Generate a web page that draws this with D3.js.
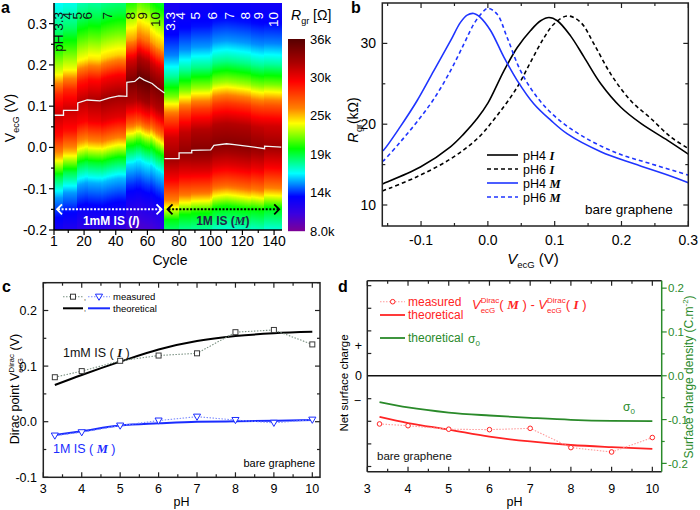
<!DOCTYPE html>
<html><head><meta charset="utf-8">
<script src="https://d3js.org/d3.v7.min.js"></script>
<style>html,body{margin:0;padding:0;background:#fff;}svg{display:block;}</style>
</head><body>
<svg id="fig" width="700" height="510" xmlns="http://www.w3.org/2000/svg"></svg>
<script>
// ================= DATA =================
// ---- Panel a ----
const cycleTicks = [1,20,40,60,80,100,120,140];
const cycleMinor = [10,30,50,70,90,110,130];
const vTicksA = [-0.2,-0.1,0.0,0.1,0.2,0.3];
const vTickLabelsA = ["-0.2","-0.1","0.0","0.1","0.2","0.3"];
const vMinorA = [-0.15,-0.05,0.05,0.15,0.25];
// Dirac point (white line) vs cycle, 1 mM IS (I) and 1 M IS (M)
const diracI_cycle = [1,7,7,16,16,22,30,36,42,47,47,52,55,58,63,66,70.8];
const diracI_V     = [0.078,0.078,0.09,0.09,0.108,0.115,0.113,0.12,0.125,0.124,0.158,0.16,0.17,0.163,0.155,0.145,0.132];
const diracM_cycle = [70.8,80,80,88,88,100,102,110,115,125,134,134,144.5];
const diracM_V     = [-0.027,-0.027,-0.013,-0.013,-0.007,-0.006,0.005,0.009,0.007,0.002,-0.003,0.003,0.001];
// per pH segment: start cycle and peak resistance (kOhm)
const segStartI = [1,7,16,23,31,47,54,62];
const peakI     = [31.5,31.5,32,32.5,33,34.5,35.5,34.5];
const segStartM = [71,80,88,96,104,116,126,134];
const peakM     = [33,33.5,34,34,34,34,33.5,33];
const rFloor = 8;
// normalised resistance profile vs (V - V_Dirac)
const offI = [-0.45,-0.4,-0.35,-0.3,-0.25,-0.2,-0.15,-0.1,-0.05,0,0.05,0.1,0.15,0.2,0.25,0.3,0.35];
const shpI = [0.02,0.04,0.08,0.14,0.21,0.3,0.47,0.72,0.91,1,0.88,0.66,0.55,0.45,0.38,0.33,0.29];
const offM = [-0.3,-0.25,-0.2,-0.15,-0.1,-0.05,0,0.05,0.1,0.15,0.2,0.25,0.3,0.35,0.4];
const shpM = [0.2,0.27,0.36,0.47,0.72,0.88,1,0.93,0.77,0.55,0.39,0.27,0.2,0.17,0.15];
const pHLabelsI = ["pH 3.3","4","5","6","7","8","9","10"];
const pHLabelCycleI = [3.5,9.2,15.5,21.8,34.4,49,56.5,64.7];
const pHLabelsM = ["3.3","4","5","6","7","8","9","10"];
const pHLabelCycleM = [74.2,80.5,90,100.7,112,121.5,130.3,139.2];
const cbLabels = ["8.0k","14k","19k","25k","30k","36k"];
const cbMin = 8, cbMax = 36;

// ---- Panel b ----
const bTicksX = [-0.1,0.0,0.1,0.2,0.3];
const bTickLabelsX = ["-0.1","0.0","0.1","0.2","0.3"];
const bTicksY = [10,20,30];
const pH4I_V = [-0.158,-0.156,-0.101,-0.056,-0.036,-0.016,0.0,0.024,0.044,0.064,0.079,0.0915,0.104,0.124,0.144,0.169,0.199,0.229,0.269,0.3];
const pH4I_R = [12.6,12.67,14.7,17.2,18.8,20.7,22.6,26.6,29.5,31.6,32.8,33.2,32.8,30.9,28.3,25.0,22.1,20.1,18.0,16.3];
const pH6I_V = [-0.158,-0.156,-0.106,-0.056,-0.016,0.014,0.044,0.064,0.084,0.099,0.119,0.139,0.159,0.184,0.214,0.244,0.274,0.3];
const pH6I_R = [11.75,11.8,13.5,15.7,18.2,21.1,24.6,27.7,30.7,32.4,33.4,32.6,29.9,26.2,22.9,20.7,18.4,17.0];
const pH4M_V = [-0.158,-0.156,-0.131,-0.106,-0.081,-0.056,-0.041,-0.031,-0.021,-0.011,0.004,0.024,0.044,0.069,0.094,0.119,0.169,0.219,0.269,0.3];
const pH4M_R = [16.7,16.8,19.7,22.9,26.6,30.3,32.6,33.5,33.7,33.2,31.6,28.3,25.4,22.5,20.5,18.8,16.6,15.1,13.7,12.75];
const pH6M_V = [-0.158,-0.156,-0.131,-0.106,-0.081,-0.056,-0.036,-0.021,-0.0085,0.0,0.014,0.029,0.049,0.074,0.104,0.144,0.194,0.244,0.3];
const pH6M_R = [15.4,15.5,17.8,20.3,23.1,26.6,29.9,32.4,33.8,34.35,33.6,30.7,26.6,23.3,20.7,18.4,16.4,15.1,13.7];

// ---- Panel c ----
const pH = [3.3,4,5,6,7,8,9,10];
const pHTicks = [3,4,5,6,7,8,9,10];
const cTicksY = [-0.1,0.0,0.1,0.2];
const cTickLabelsY = ["-0.1","0.0","0.1","0.2"];
const measI = [0.080,0.091,0.1095,0.119,0.123,0.161,0.165,0.139];
const theoI = [0.066,0.084,0.108,0.130,0.145,0.154,0.159,0.1616];
const measM = [-0.025,-0.019,-0.007,0.002,0.009,0.003,-0.002,0.0036];
const theoM = [-0.024,-0.017,-0.007,-0.003,0.0,0.0006,0.0016,0.003];

// ---- Panel d ----
const dTicksY = [-0.2,-0.1,0.0,0.1,0.2];
const dTickLabelsY = ["-0.2","-0.1","0.0","0.1","0.2"];
const measDiff = [-0.110,-0.114,-0.122,-0.123,-0.120,-0.164,-0.174,-0.141];
const theoDiff = [-0.094,-0.108,-0.123,-0.139,-0.150,-0.158,-0.163,-0.167];
const sigma0   = [-0.060,-0.0724,-0.084,-0.0907,-0.096,-0.1006,-0.103,-0.1036];

// ================= DRAWING =================
const FONT = '"Liberation Sans", Arial, Helvetica, sans-serif';
const SERIF = '"Liberation Serif", "Times New Roman", serif';
const svg = d3.select("#fig").style("font-family", FONT);
const defs = svg.append("defs");

function hTicks(g, scale, vals, y, dy, color, w){
  g.selectAll(null).data(vals).enter().append("line")
    .attr("x1", d=>scale(d)).attr("x2", d=>scale(d)).attr("y1", y).attr("y2", y+dy)
    .attr("stroke", color).attr("stroke-width", w||1.2);
}
function vTicks(g, scale, vals, x, dx, color, w){
  g.selectAll(null).data(vals).enter().append("line")
    .attr("y1", d=>scale(d)).attr("y2", d=>scale(d)).attr("x1", x).attr("x2", x+dx)
    .attr("stroke", color).attr("stroke-width", w||1.2);
}
function stepInterp(xs, ys, x){
  if (x <= xs[0]) return ys[0];
  for (let i=0;i<xs.length-1;i++){
    if (x>=xs[i] && x<xs[i+1]) return ys[i] + (ys[i+1]-ys[i])*(x-xs[i])/(xs[i+1]-xs[i]);
  }
  return ys[ys.length-1];
}
function clip(id, x0, y0, x1, y1){
  defs.append("clipPath").attr("id", id).append("rect")
    .attr("x", x0).attr("y", y0).attr("width", x1-x0).attr("height", y1-y0);
  return "url(#"+id+")";
}

// ---------- PANEL A ----------
const gA = svg.append("g");
const xA = d3.scaleLinear().domain([1,145]).range([54,282]);
const yA = d3.scaleLinear().domain([-0.2,0.35]).range([230,3]);
const colorR = d3.scaleLinear()
  .domain([8,10.5,13,16.4,20,23.7,25.9,29.8,32.6,36])
  .range(["#7d0096","#3a00e0","#0000ff","#00ffff","#00ff00","#ffff00","#ff8000","#ff0000","#a80000","#560000"])
  .clamp(true);
const shapeI = d3.scaleLinear().domain(offI).range(shpI).clamp(true);
const shapeM = d3.scaleLinear().domain(offM).range(shpM).clamp(true);

const hmX0 = Math.floor(xA(1)), hmX1 = Math.ceil(xA(145));
const hmY0 = Math.floor(yA(0.35)), hmY1 = Math.ceil(yA(-0.2));
const cw = hmX1-hmX0, ch = hmY1-hmY0;
const canvas = document.createElement("canvas");
canvas.width = cw; canvas.height = ch;
const ctx = canvas.getContext("2d");
for (let c=1; c<145; c++){
  const isI = c < 71;
  const cc = c+0.5;
  const dirac = isI ? stepInterp(diracI_cycle, diracI_V, cc) : stepInterp(diracM_cycle, diracM_V, cc);
  const starts = isI ? segStartI : segStartM, peaks = isI ? peakI : peakM;
  const si = Math.max(0, d3.bisectRight(starts, c)-1);
  const peak = peaks[si];
  const shape = isI ? shapeI : shapeM;
  const xa = Math.floor(xA(c)-hmX0), xb = Math.ceil(xA(c+1)-hmX0);
  for (let py=0; py<ch; py++){
    const V = yA.invert(hmY0+py+0.5);
    const R = rFloor + (peak-rFloor)*shape(V-dirac);
    ctx.fillStyle = colorR(R);
    ctx.fillRect(xa, py, xb-xa, 1);
  }
}
gA.append("image").attr("x", hmX0).attr("y", hmY0).attr("width", cw).attr("height", ch)
  .attr("preserveAspectRatio","none").attr("href", canvas.toDataURL());

const lineA = d3.line().x(d=>xA(d[0])).y(d=>yA(d[1]));
gA.append("path").attr("d", lineA(diracI_cycle.map((c,i)=>[c, diracI_V[i]])))
  .attr("fill","none").attr("stroke","#f4f4f4").attr("stroke-width",1.3);
gA.append("path").attr("d", lineA(diracM_cycle.map((c,i)=>[c, diracM_V[i]])))
  .attr("fill","none").attr("stroke","#f4f4f4").attr("stroke-width",1.3);

// pH labels
gA.selectAll(null).data(pHLabelsI).enter().append("text")
  .attr("transform",(d,i)=>`translate(${xA(pHLabelCycleI[i])},12) rotate(-90)`)
  .attr("text-anchor","end").attr("dy","0.35em").attr("font-size",13.5).attr("fill","#111").text(d=>d);
gA.selectAll(null).data(pHLabelsM).enter().append("text")
  .attr("transform",(d,i)=>`translate(${xA(pHLabelCycleM[i])},12) rotate(-90)`)
  .attr("text-anchor","end").attr("dy","0.35em").attr("font-size",13.5).attr("fill","#fff").text(d=>d);

// IS arrows
function arrow(g, x0, x1, y, col){
  g.append("line").attr("x1",x0+2).attr("x2",x1-2).attr("y1",y).attr("y2",y)
    .attr("stroke",col).attr("stroke-width",2).attr("stroke-dasharray","2,1.6");
  g.append("path").attr("d",`M${x0+6},${y-5}L${x0+1},${y}L${x0+6},${y+5}`)
    .attr("fill","none").attr("stroke",col).attr("stroke-width",1.8);
  g.append("path").attr("d",`M${x1-6},${y-5}L${x1-1},${y}L${x1-6},${y+5}`)
    .attr("fill","none").attr("stroke",col).attr("stroke-width",1.8);
}
arrow(gA, xA(1)+2, xA(70.8)-2, yA(-0.15), "#fff");
arrow(gA, xA(70.8)+2, xA(144.5)-1, yA(-0.15), "#000");
const tI = gA.append("text").attr("x",(xA(1)+xA(70.8))/2+2).attr("y",225).attr("text-anchor","middle")
  .attr("font-size",12).attr("font-weight","bold").attr("fill","#fff");
tI.append("tspan").text("1mM IS (");
tI.append("tspan").attr("font-style","italic").text("I");
tI.append("tspan").text(")");
const tM = gA.append("text").attr("x",(xA(70.8)+xA(144.5))/2).attr("y",225).attr("text-anchor","middle")
  .attr("font-size",12).attr("font-weight","bold").attr("fill","#22264a");
tM.append("tspan").text("1M IS (");
tM.append("tspan").attr("font-style","italic").attr("font-family",SERIF).text("M");
tM.append("tspan").text(")");

// axes a
gA.append("line").attr("x1",xA(1)).attr("x2",xA(1)).attr("y1",yA(0.35)).attr("y2",yA(-0.2)).attr("stroke","#000").attr("stroke-width",1.5);
gA.append("line").attr("x1",xA(1)).attr("x2",xA(145)).attr("y1",yA(-0.2)).attr("y2",yA(-0.2)).attr("stroke","#000").attr("stroke-width",1.5);
vTicks(gA, yA, vTicksA, xA(1), -5, "#000");
vTicks(gA, yA, vMinorA, xA(1), -3, "#000");
hTicks(gA, xA, cycleTicks, yA(-0.2), 5, "#000");
hTicks(gA, xA, cycleMinor, yA(-0.2), 3, "#000");
gA.selectAll(null).data(vTicksA).enter().append("text")
  .attr("x", 47).attr("y", d=>yA(d)).attr("dy","0.36em").attr("text-anchor","end")
  .attr("font-size",14).text((d,i)=>vTickLabelsA[i]);
gA.selectAll(null).data(cycleTicks).enter().append("text")
  .attr("x", d=>xA(d)).attr("y", 246).attr("text-anchor","middle")
  .attr("font-size",14).text(d=>d);
gA.append("text").attr("x",(xA(1)+xA(145))/2+2).attr("y",265).attr("text-anchor","middle").attr("font-size",14).text("Cycle");
const ylA = gA.append("text").attr("transform","translate(15,118) rotate(-90)").attr("text-anchor","middle").attr("font-size",14);
ylA.append("tspan").text("V");
ylA.append("tspan").attr("font-size",9).attr("dy",4).text("ecG");
ylA.append("tspan").attr("dy",-4).text(" (V)");
svg.append("text").attr("x",1).attr("y",13).attr("font-size",16).attr("font-weight","bold").text("a");

// colorbar
const yCB = d3.scaleLinear().domain([cbMin,cbMax]).range([231,39]);
const cbRows = d3.range(39,231);
gA.selectAll(null).data(cbRows).enter().append("rect")
  .attr("x",288).attr("y",d=>d).attr("width",17).attr("height",1.2)
  .attr("fill",d=>colorR(yCB.invert(d+0.5)));
const cbTicks = d3.range(6).map(i=>cbMin + i*(cbMax-cbMin)/5);
gA.selectAll(null).data(cbTicks).enter().append("text")
  .attr("x",310).attr("y",d=>yCB(d)).attr("dy","0.36em").attr("font-size",13)
  .text((d,i)=>cbLabels[i]);
const cbT = gA.append("text").attr("x",291).attr("y",20).attr("font-size",14);
cbT.append("tspan").attr("font-style","italic").text("R");
cbT.append("tspan").attr("font-size",9).attr("dy",4).text("gr");
cbT.append("tspan").attr("dy",-4).text(" [Ω]");

// ---------- PANEL B ----------
const gB = svg.append("g");
const xB = d3.scaleLinear().domain([-0.158,0.3]).range([382.3,688.3]);
const yB = d3.scaleLinear().domain([7.4,35]).range([226,3]);
const clipB = clip("clipB", 382.3, 3, 688.3, 226);
const lineB = d3.line().x(d=>xB(d[0])).y(d=>yB(d[1])).curve(d3.curveCatmullRom.alpha(0.5));
const curvesB = [
  {V:pH4I_V, R:pH4I_R, col:"#000", dash:null},
  {V:pH6I_V, R:pH6I_R, col:"#000", dash:"4,3"},
  {V:pH4M_V, R:pH4M_R, col:"#1f35ff", dash:null},
  {V:pH6M_V, R:pH6M_R, col:"#1f35ff", dash:"4,3"}
];
curvesB.forEach(c=>{
  gB.append("path").attr("clip-path",clipB).attr("d", lineB(c.V.map((v,i)=>[v,c.R[i]])))
    .attr("fill","none").attr("stroke",c.col).attr("stroke-width",1.6)
    .attr("stroke-dasharray",c.dash);
});
gB.append("rect").attr("x",382.3).attr("y",3).attr("width",306).attr("height",223)
  .attr("fill","none").attr("stroke","#222").attr("stroke-width",1.5);
const bMinorX = [-0.15,-0.05,0.05,0.15,0.25];
const bMinorY = [15,25];
hTicks(gB, xB, bTicksX, 226, -5, "#222"); hTicks(gB, xB, bMinorX, 226, -3, "#222");
hTicks(gB, xB, bTicksX, 3, 5, "#222"); hTicks(gB, xB, bMinorX, 3, 3, "#222");
vTicks(gB, yB, bTicksY, 382.3, 5, "#222"); vTicks(gB, yB, bMinorY, 382.3, 3, "#222");
vTicks(gB, yB, bTicksY, 688.3, -5, "#222"); vTicks(gB, yB, bMinorY, 688.3, -3, "#222");
gB.selectAll(null).data(bTicksX).enter().append("text")
  .attr("x",d=>xB(d)).attr("y",245).attr("text-anchor","middle").attr("font-size",14)
  .text((d,i)=>bTickLabelsX[i]);
gB.selectAll(null).data(bTicksY).enter().append("text")
  .attr("x",376).attr("y",d=>yB(d)).attr("dy","0.36em").attr("text-anchor","end").attr("font-size",14)
  .text(d=>d);
const xlB = gB.append("text").attr("x",533).attr("y",264).attr("text-anchor","middle").attr("font-size",15);
xlB.append("tspan").attr("font-style","italic").text("V");
xlB.append("tspan").attr("font-size",9.5).attr("dy",4).text("ecG");
xlB.append("tspan").attr("dy",-4).text(" (V)");
const ylB = gB.append("text").attr("transform","translate(358,120) rotate(-90)").attr("text-anchor","middle").attr("font-size",14);
ylB.append("tspan").attr("font-style","italic").text("R");
ylB.append("tspan").attr("font-size",9).attr("dx",0.5).attr("dy",3.5).text("gr");
ylB.append("tspan").attr("dy",-3.5).text("(kΩ)");
svg.append("text").attr("x",351).attr("y",13).attr("font-size",16).attr("font-weight","bold").text("b");
// legend b
const legB = [["pH4 ","I"],["pH6 ","I"],["pH4 ","M"],["pH6 ","M"]];
const legBy = [155,169,183,197];
legB.forEach((l,i)=>{
  const c = curvesB[i];
  gB.append("line").attr("x1",487).attr("x2",518).attr("y1",legBy[i]).attr("y2",legBy[i])
    .attr("stroke",c.col).attr("stroke-width",1.6).attr("stroke-dasharray",c.dash);
  const t = gB.append("text").attr("x",523).attr("y",legBy[i]).attr("dy","0.36em").attr("font-size",12.5);
  t.append("tspan").text(l[0]);
  t.append("tspan").attr("font-family",SERIF).attr("font-style","italic").attr("font-weight","bold").text(l[1]);
});
gB.append("text").attr("x",585).attr("y",214).attr("font-size",13.5).text("bare graphene");

// ---------- PANEL C ----------
const gC = svg.append("g");
const xC = d3.scaleLinear().domain([3,10.2]).range([43.3,320]);
const yC = d3.scaleLinear().domain([-0.1,0.25]).range([477.3,282.7]);
const clipC = clip("clipC", 43.3, 282.7, 320, 477.3);
const lineStraightC = d3.line().x(d=>xC(d[0])).y(d=>yC(d[1]));
const lineSmoothC = d3.line().x(d=>xC(d[0])).y(d=>yC(d[1])).curve(d3.curveMonotoneX);
const colIline = "#7b9283", colIpt = "#3a3a3a", colMline = "#7c8cff", colM = "#1a2cff";
gC.append("path").attr("clip-path",clipC).attr("d", lineSmoothC(pH.map((p,i)=>[p,theoI[i]])))
  .attr("fill","none").attr("stroke","#000").attr("stroke-width",2);
gC.append("path").attr("clip-path",clipC).attr("d", lineSmoothC(pH.map((p,i)=>[p,theoM[i]])))
  .attr("fill","none").attr("stroke",colM).attr("stroke-width",2);
gC.append("path").attr("d", lineStraightC(pH.map((p,i)=>[p,measI[i]])))
  .attr("fill","none").attr("stroke",colIline).attr("stroke-width",1.1).attr("stroke-dasharray","1.5,1.5");
gC.append("path").attr("d", lineStraightC(pH.map((p,i)=>[p,measM[i]])))
  .attr("fill","none").attr("stroke",colMline).attr("stroke-width",1.1).attr("stroke-dasharray","1.5,1.5");
gC.selectAll(null).data(pH).enter().append("rect")
  .attr("x",(d)=>xC(d)-2.5).attr("y",(d,i)=>yC(measI[i])-2.5).attr("width",5).attr("height",5)
  .attr("fill","#fff").attr("stroke",colIpt).attr("stroke-width",1);
const tri = d3.symbol().type(d3.symbolTriangle).size(22);
gC.selectAll(null).data(pH).enter().append("path")
  .attr("d",tri).attr("transform",(d,i)=>`translate(${xC(d)},${yC(measM[i])-0.5}) rotate(180)`)
  .attr("fill","#fff").attr("stroke",colM).attr("stroke-width",1);
gC.append("rect").attr("x",43.3).attr("y",282.7).attr("width",276.7).attr("height",194.6)
  .attr("fill","none").attr("stroke","#222").attr("stroke-width",1.5);
const cMinorX = [3.5,4.5,5.5,6.5,7.5,8.5,9.5];
const cMinorY = [-0.05,0.05,0.15,0.25];
hTicks(gC, xC, pHTicks, 477.3, -5, "#222"); hTicks(gC, xC, cMinorX, 477.3, -3, "#222");
hTicks(gC, xC, pHTicks, 282.7, 5, "#222"); hTicks(gC, xC, cMinorX, 282.7, 3, "#222");
vTicks(gC, yC, cTicksY, 43.3, 5, "#222"); vTicks(gC, yC, cMinorY, 43.3, 3, "#222");
vTicks(gC, yC, cTicksY, 320, -5, "#222"); vTicks(gC, yC, cMinorY, 320, -3, "#222");
gC.selectAll(null).data(pHTicks).enter().append("text")
  .attr("x",d=>xC(d)).attr("y",493).attr("text-anchor","middle").attr("font-size",12.5).text(d=>d);
gC.selectAll(null).data(cTicksY).enter().append("text")
  .attr("x",37).attr("y",d=>yC(d)).attr("dy","0.36em").attr("text-anchor","end").attr("font-size",12.5)
  .text((d,i)=>cTickLabelsY[i]);
gC.append("text").attr("x",181.6).attr("y",506).attr("text-anchor","middle").attr("font-size",12.5).text("pH");
const ylC = gC.append("text").attr("transform","translate(19,389) rotate(-90)").attr("text-anchor","middle").attr("font-size",12.5);
ylC.append("tspan").text("Dirac point  V");
ylC.append("tspan").attr("font-size",8).attr("dy",3.5).text("ecG");
ylC.append("tspan").attr("font-size",8).attr("dx",-14.7).attr("dy",-9).text("Dirac");
ylC.append("tspan").attr("dy",5.5).text(" (V)");
svg.append("text").attr("x",2).attr("y",292).attr("font-size",16).attr("font-weight","bold").text("c");
// legend c
const lcy1 = 296.7, lcy2 = 308.3;
gC.append("line").attr("x1",63).attr("x2",83).attr("y1",lcy1).attr("y2",lcy1).attr("stroke",colIline).attr("stroke-width",1.1).attr("stroke-dasharray","1.5,1.5");
gC.append("rect").attr("x",70.5).attr("y",lcy1-2.5).attr("width",5).attr("height",5).attr("fill","#fff").attr("stroke",colIpt);
gC.append("line").attr("x1",88).attr("x2",110).attr("y1",lcy1).attr("y2",lcy1).attr("stroke",colMline).attr("stroke-width",1.1).attr("stroke-dasharray","1.5,1.5");
gC.append("path").attr("d",tri).attr("transform",`translate(99,${lcy1-0.5}) rotate(180)`).attr("fill","#fff").attr("stroke",colM);
gC.append("line").attr("x1",63).attr("x2",83).attr("y1",lcy2).attr("y2",lcy2).attr("stroke","#000").attr("stroke-width",2);
gC.append("line").attr("x1",88).attr("x2",110).attr("y1",lcy2).attr("y2",lcy2).attr("stroke",colM).attr("stroke-width",2);
gC.append("text").attr("x",84).attr("y",lcy1+3).attr("font-size",7).text(",");
gC.append("text").attr("x",84).attr("y",lcy2+3).attr("font-size",7).text(",");
gC.append("text").attr("x",113).attr("y",lcy1).attr("dy","0.36em").attr("font-size",9.5).text("measured");
gC.append("text").attr("x",113).attr("y",lcy2).attr("dy","0.36em").attr("font-size",9.5).text("theoretical");
const t1mM = gC.append("text").attr("x",63).attr("y",357).attr("font-size",12.5).attr("fill","#111");
t1mM.append("tspan").text("1mM IS ( ");
t1mM.append("tspan").attr("font-family",SERIF).attr("font-style","italic").attr("font-weight","bold").text("I");
t1mM.append("tspan").text(" )");
const t1M = gC.append("text").attr("x",53).attr("y",453).attr("font-size",12.5).attr("fill",colM);
t1M.append("tspan").text("1M IS ( ");
t1M.append("tspan").attr("font-family",SERIF).attr("font-style","italic").attr("font-weight","bold").text("M");
t1M.append("tspan").text(" )");
gC.append("text").attr("x",315).attr("y",467).attr("text-anchor","end").attr("font-size",11).text("bare graphene");

// ---------- PANEL D ----------
const gD = svg.append("g");
const xD = d3.scaleLinear().domain([3,10.23]).range([367.3,661.7]);
const yD = d3.scaleLinear().domain([-0.219,0.217]).range([471.7,280.7]);
const yDL = d3.scaleLinear().domain([-4.23,4.22]).range([471.7,280.7]);
const clipD = clip("clipD", 367.3, 280.7, 661.7, 471.7);
const lineStraightD = d3.line().x(d=>xD(d[0])).y(d=>yD(d[1]));
const lineSmoothD = d3.line().x(d=>xD(d[0])).y(d=>yD(d[1])).curve(d3.curveMonotoneX);
const colRed = "#ff2424", colRedL = "#ff9a9a", colGreen = "#2a8a2a";
gD.append("line").attr("x1",367.3).attr("x2",661.7).attr("y1",yD(0)).attr("y2",yD(0)).attr("stroke","#111").attr("stroke-width",1.5);
gD.append("path").attr("clip-path",clipD).attr("d", lineSmoothD(pH.map((p,i)=>[p,sigma0[i]])))
  .attr("fill","none").attr("stroke",colGreen).attr("stroke-width",1.8);
gD.append("path").attr("clip-path",clipD).attr("d", lineSmoothD(pH.map((p,i)=>[p,theoDiff[i]])))
  .attr("fill","none").attr("stroke",colRed).attr("stroke-width",1.8);
gD.append("path").attr("d", lineStraightD(pH.map((p,i)=>[p,measDiff[i]])))
  .attr("fill","none").attr("stroke",colRedL).attr("stroke-width",1.1).attr("stroke-dasharray","1.5,1.5");
gD.selectAll(null).data(pH).enter().append("circle")
  .attr("cx",d=>xD(d)).attr("cy",(d,i)=>yD(measDiff[i])).attr("r",2.3)
  .attr("fill","#fff").attr("stroke",colRed).attr("stroke-width",1);
// frame
gD.append("line").attr("x1",367.3).attr("x2",661.7).attr("y1",280.7).attr("y2",280.7).attr("stroke","#222").attr("stroke-width",1.5);
gD.append("line").attr("x1",367.3).attr("x2",661.7).attr("y1",471.7).attr("y2",471.7).attr("stroke","#222").attr("stroke-width",1.5);
gD.append("line").attr("x1",367.3).attr("x2",367.3).attr("y1",280.7).attr("y2",471.7).attr("stroke","#222").attr("stroke-width",1.5);
gD.append("line").attr("x1",661.7).attr("x2",661.7).attr("y1",280.7).attr("y2",471.7).attr("stroke",colGreen).attr("stroke-width",1.5);
const dMinorX = [3.5,4.5,5.5,6.5,7.5,8.5,9.5];
hTicks(gD, xD, pHTicks, 471.7, -5, "#222"); hTicks(gD, xD, dMinorX, 471.7, -3, "#222");
hTicks(gD, xD, pHTicks, 280.7, 5, "#222"); hTicks(gD, xD, dMinorX, 280.7, 3, "#222");
vTicks(gD, yDL, [-4,-3,-2,-1,1,2,3,4], 367.3, 4, "#222");
vTicks(gD, yD, dTicksY, 661.7, 5, colGreen);
vTicks(gD, yD, [-0.15,-0.05,0.05,0.15], 661.7, 3, colGreen);
gD.selectAll(null).data(pHTicks).enter().append("text")
  .attr("x",d=>xD(d)).attr("y",493).attr("text-anchor","middle").attr("font-size",12.5).text(d=>d);
gD.selectAll(null).data(dTicksY).enter().append("text")
  .attr("x",668).attr("y",d=>yD(d)).attr("dy","0.36em").attr("font-size",11.5).attr("fill",colGreen)
  .text((d,i)=>dTickLabelsY[i]);
gD.append("text").attr("x",362).attr("y",yD(0)).attr("dy","0.36em").attr("text-anchor","end").attr("font-size",12.5).text("0");
gD.append("text").attr("x",362).attr("y",345).attr("dy","0.36em").attr("text-anchor","end").attr("font-size",12.5).text("+");
gD.append("text").attr("x",361).attr("y",400).attr("dy","0.36em").attr("text-anchor","end").attr("font-size",12.5).text("−");
gD.append("text").attr("x",514.5).attr("y",506).attr("text-anchor","middle").attr("font-size",12.5).text("pH");
gD.append("text").attr("transform","translate(348,383) rotate(-90)").attr("text-anchor","middle").attr("font-size",11.5).text("Net surface charge");
const ylD = gD.append("text").attr("transform","translate(693,377) rotate(-90)").attr("text-anchor","middle").attr("font-size",12).attr("fill",colGreen);
ylD.append("tspan").text("Surface charge density (C.m");
ylD.append("tspan").attr("font-size",8).attr("dy",-5).text("-2");
ylD.append("tspan").attr("dy",5).text(")");
svg.append("text").attr("x",338).attr("y",292).attr("font-size",16).attr("font-weight","bold").text("d");
// legend d
gD.append("line").attr("x1",380).attr("x2",405).attr("y1",301.7).attr("y2",301.7).attr("stroke",colRedL).attr("stroke-width",1.1).attr("stroke-dasharray","1.5,1.5");
gD.append("circle").attr("cx",392.7).attr("cy",301.7).attr("r",2.3).attr("fill","#fff").attr("stroke",colRed);
gD.append("line").attr("x1",380).attr("x2",405).attr("y1",315).attr("y2",315).attr("stroke",colRed).attr("stroke-width",1.8);
gD.append("line").attr("x1",380).attr("x2",405).attr("y1",338).attr("y2",338).attr("stroke",colGreen).attr("stroke-width",1.8);
gD.append("text").attr("x",408).attr("y",301.7).attr("dy","0.36em").attr("font-size",12).attr("fill",colRed).text("measured");
gD.append("text").attr("x",408).attr("y",315).attr("dy","0.36em").attr("font-size",12).attr("fill",colRed).text("theoretical");
gD.append("text").attr("x",408).attr("y",338).attr("dy","0.36em").attr("font-size",12).attr("fill",colGreen).text("theoretical");
function sigmaLabel(x,y){
  const t = gD.append("text").attr("x",x).attr("y",y).attr("font-size",12).attr("fill",colGreen);
  t.append("tspan").text("σ");
  t.append("tspan").attr("font-size",8).attr("dy",3).text("0");
}
sigmaLabel(468, 342.5);
sigmaLabel(623, 411);
// formula
const fD = gD.append("text").attr("x",472).attr("y",309).attr("font-size",13).attr("fill",colRed);
function vdirac(t){
  t.append("tspan").attr("font-style","italic").text("V");
  t.append("tspan").attr("font-size",8).attr("dy",3.5).text("ecG");
  t.append("tspan").attr("font-size",8).attr("dx",-14.7).attr("dy",-9.5).text("Dirac");
  t.append("tspan").attr("dy",6).text("( ");
}
vdirac(fD);
fD.append("tspan").attr("font-family",SERIF).attr("font-style","italic").attr("font-weight","bold").text("M");
fD.append("tspan").text(" ) - ");
vdirac(fD);
fD.append("tspan").attr("font-family",SERIF).attr("font-style","italic").attr("font-weight","bold").text("I");
fD.append("tspan").text(" )");
gD.append("text").attr("x",377).attr("y",460).attr("font-size",11.5).attr("fill","#111").text("bare graphene");
</script>
</body></html>
